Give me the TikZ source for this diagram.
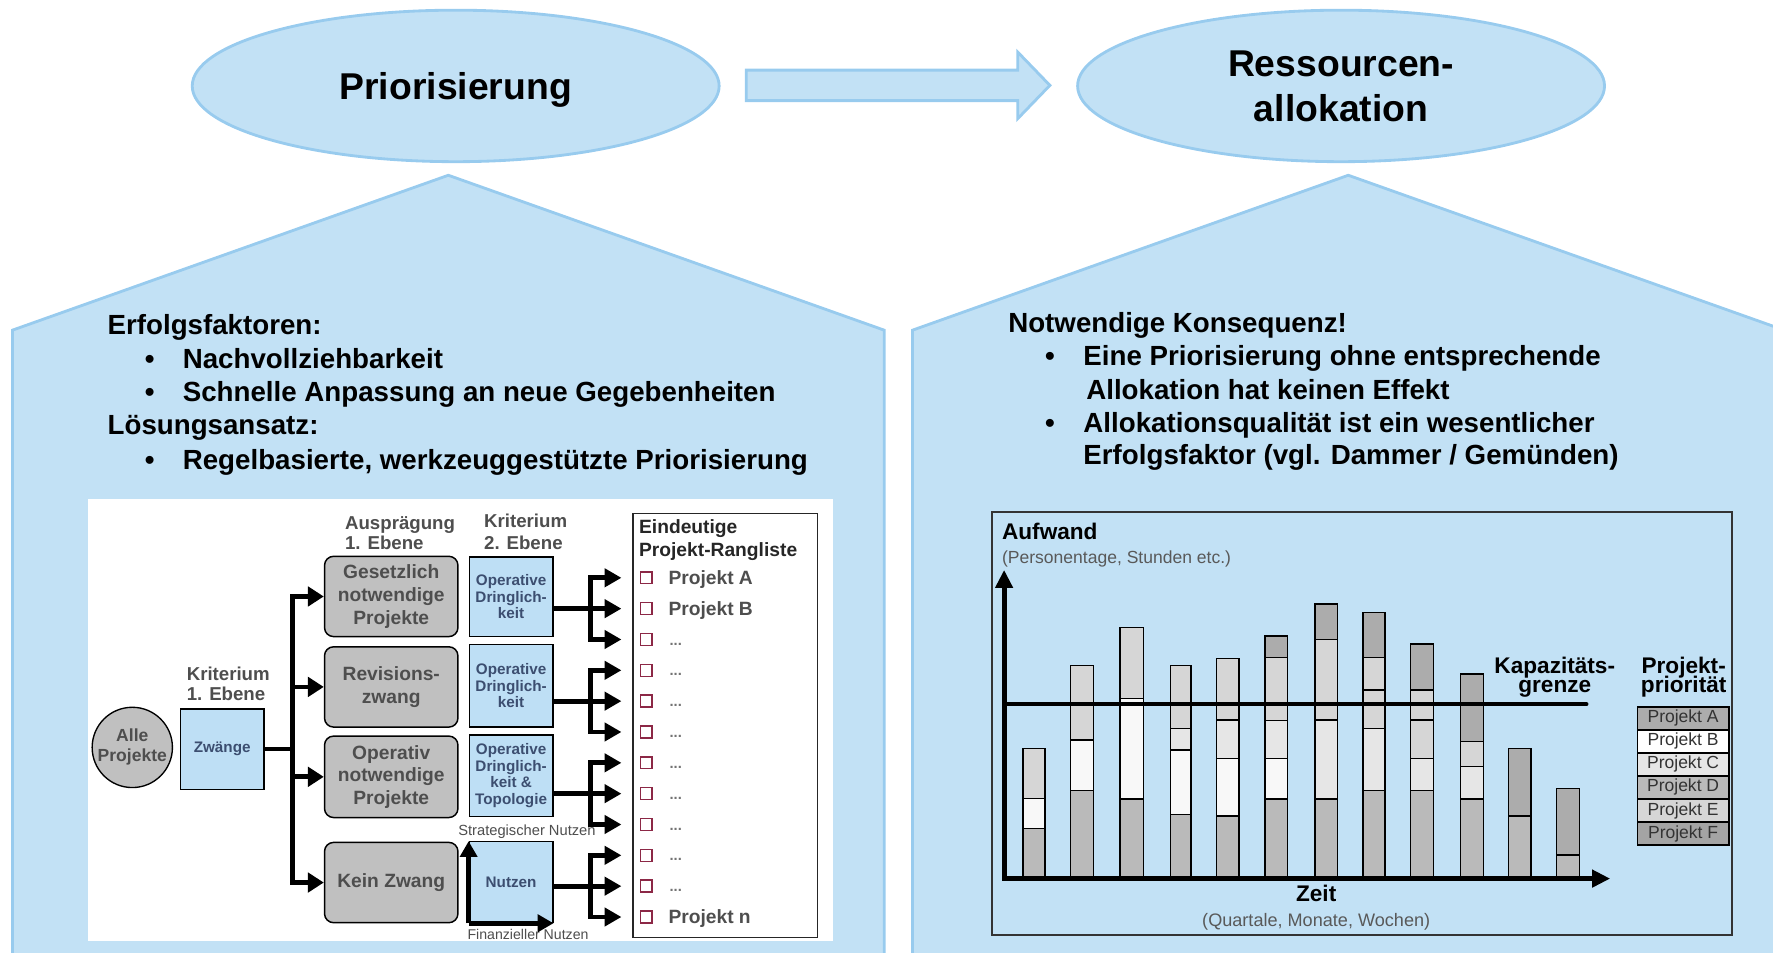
\documentclass[tikz,border=0pt]{standalone}
\usepackage{fontspec}
\setmainfont{Liberation Sans}
\usetikzlibrary{arrows.meta,shapes.geometric}
\definecolor{lb}{RGB}{194,225,245}
\definecolor{lbd}{RGB}{152,203,238}
\definecolor{boxblue}{RGB}{190,223,245}
\definecolor{gboxc}{RGB}{192,192,192}
\definecolor{dgt}{RGB}{78,78,78}
\definecolor{btxt}{RGB}{60,78,112}
\definecolor{cbred}{RGB}{140,40,70}
\definecolor{pA}{RGB}{172,172,172}
\definecolor{pB}{RGB}{248,248,248}
\definecolor{pC}{RGB}{230,230,230}
\definecolor{pD}{RGB}{186,186,186}
\definecolor{pE}{RGB}{214,214,214}
\definecolor{pF}{RGB}{164,164,164}
\newcommand\chseg[5]{\draw[fill=#5,draw=black,line width=1.3pt] (#1,#3) rectangle (#2,#4);}
\newcommand\fsz[2]{\fontsize{#1}{#2}\selectfont}
\begin{document}
\begin{tikzpicture}[x=1pt,y=-1pt,
  big/.style={font=\fsz{24.5}{30}\bfseries, anchor=base west, inner sep=0pt},
  ttl/.style={font=\fsz{33}{40}\bfseries, anchor=base, inner sep=0pt},
  ell/.style={ellipse, fill=lb, draw=lbd, line width=2.5pt, minimum width=466pt, minimum height=134pt, inner sep=0pt},
  panel/.style={fill=lb, draw=lbd, line width=2.5pt},
  lab/.style={font=\fsz{16.5}{18}\bfseries, text=dgt, anchor=base west, inner sep=0pt},
  gb/.style={rounded corners=8pt, fill=gboxc, draw=black, line width=1.3pt, minimum width=118pt, align=center, text=dgt, font=\fsz{17}{20}\bfseries, inner sep=0pt},
  bb/.style={fill=boxblue, draw=black, line width=1.1pt, minimum width=74pt, align=center, text=btxt, font=\fsz{13.5}{14.7}\bfseries, inner sep=0pt},
  arrline/.style={line width=4.2pt, -{Triangle[length=15pt,width=16pt]}},
  thk/.style={line width=4.2pt},
  chk/.style={draw=cbred, line width=1.3pt, minimum size=10.5pt, inner sep=0pt},
  itm/.style={anchor=base west, inner sep=0pt, text=dgt, font=\fsz{17}{20}\bfseries},
  small/.style={anchor=base, inner sep=0pt, text=dgt, font=\fsz{13}{15}},
  chtxt/.style={inner sep=0pt, font=\fsz{20}{20}\bfseries},
  chsub/.style={inner sep=0pt, text=black!65, font=\fsz{15.5}{18}},
  legrow/.style={draw=black, line width=1.4pt, minimum width=81pt, minimum height=20.4pt, inner sep=0pt, text=black!80, font=\fsz{15.5}{16}}
]
\useasboundingbox (0,0) rectangle (1568,842);
\clip (0,0) rectangle (1568,842);

% top ellipses and block arrow
\node[ell] (prio) at (403,76) {};
\node[ttl] (priot) at (403,88.4) {Priorisierung};
\node[ell] (ress) at (1186,76) {};
\node[ttl] (resst1) at (1186,67.8) {Ressourcen-};
\node[ttl] (resst2) at (1186,107.6) {allokation};
\draw[panel] (660,62) -- (900,62) -- (900,46) -- (928.5,75.5) -- (900,105) -- (900,89) -- (660,89) -- cycle;

% pentagons
\draw[panel] (11,870) -- (11,292) -- (396.5,155) -- (782,292) -- (782,870);
\draw[panel] (807,870) -- (807,292) -- (1192.4,155) -- (1578,292) -- (1578,870);

% left texts
\node[big] (ef) at (95,295.6) {Erfolgsfaktoren:};
\node[big] (lb1) at (128,325.8) {•};
\node[big] (lt1) at (161.5,325.8) {Nachvollziehbarkeit};
\node[big] (lb2) at (128,355.2) {•};
\node[big] (lt2) at (161.5,355.2) {Schnelle Anpassung an neue Gegebenheiten};
\node[big] (la) at (95,384.7) {Lösungsansatz:};
\node[big] (lb3) at (128,415) {•};
\node[big] (lt3) at (161.5,415) {Regelbasierte, werkzeuggestützte Priorisierung};

% right texts
\node[big] (nk) at (891.5,293.9) {Notwendige Konsequenz!};
\node[big] (rb1) at (924,322.8) {•};
\node[big] (rt1) at (958,322.8) {Eine Priorisierung ohne entsprechende};
\node[big] (rt2) at (960.5,352.9) {Allokation hat keinen Effekt};
\node[big] (rb2) at (924,382.4) {•};
\node[big] (rt3) at (958,382.4) {Allokationsqualität ist ein wesentlicher};
\node[big] (rt4) at (958,411.2) {Erfolgsfaktor (vgl. Dammer / Gemünden)};

% ---------------- left diagram ----------------
\fill[white] (78,441) rectangle (737,832);
\node[circle, fill=gboxc, draw=black, line width=1.2pt, minimum size=71pt, inner sep=0pt, align=center, text=dgt, font=\fsz{15.5}{17.7}\bfseries] (alle) at (117,661) {Alle\\Projekte};
\node[bb, minimum height=71pt] (zw) at (196.5,662.5) {Zwänge};
\node[lab] (k1a) at (165,602) {Kriterium};
\node[lab] (k1b) at (165,619.7) {1. Ebene};
\node[lab] (aua) at (305,468.1) {Ausprägung};
\node[lab] (aub) at (305,485.8) {1. Ebene};
\node[lab] (k2a) at (428,466.7) {Kriterium};
\node[lab] (k2b) at (428,485.8) {2. Ebene};

\node[gb, minimum height=71pt] (g1) at (346,527.5) {Gesetzlich\\notwendige\\Projekte};
\node[gb, minimum height=71pt] (g2) at (346,607.5) {Revisions-\\zwang};
\node[gb, minimum height=72pt] (g3) at (346,687) {Operativ\\notwendige\\Projekte};
\node[gb, minimum height=71pt] (g4) at (346,780.5) {Kein Zwang};

\node[bb, minimum height=70.5pt] (b1) at (452,527.8) {Operative\\Dringlich-\\keit};
\node[bb, minimum height=73pt] (b2) at (452,606.5) {Operative\\Dringlich-\\keit};
\node[bb, minimum height=72pt] (b3) at (452,686) {Operative\\Dringlich-\\keit \&\\Topologie};
\node[bb, minimum height=71.5pt] (b4) at (452,780.2) {Nutzen};
\node[small] (strat) at (466,738.5) {Strategischer Nutzen};
\node[small, font=\fsz{12.5}{14}] (fin) at (467,830.5) {Finanzieller Nutzen};
\draw[line width=4.2pt, -{Triangle[length=14pt,width=15pt]}] (b4.south west) -- (b4.north west);
\draw[line width=4.2pt, -{Triangle[length=14pt,width=15pt]}] (b4.south west) -- (b4.south east);

% trunk
\coordinate (tr) at (259,661);
\draw[thk] (zw.east) -- (tr |- zw.east);
\draw[thk, line cap=rect] (tr |- g1.west) -- (tr |- g4.west);
\foreach \g in {g1,g2,g3,g4} \draw[line width=4.2pt, -{Triangle[length=14pt,width=17pt]}] (tr |- \g.west) -- (\g.west);

% ranking list
\node[draw=black!85, line width=1.5pt, fill=white, minimum width=163pt, minimum height=375pt, inner sep=0pt] (rl) at (641.5,641.5) {};
\node[anchor=base west, inner sep=0pt, text=black!85, font=\fsz{17}{20}\bfseries] (rlt1) at (565,471.7) {Eindeutige};
\node[anchor=base west, inner sep=0pt, text=black!85, font=\fsz{17}{20}\bfseries] (rlt2) at (565,492.3) {Projekt-Rangliste};
\foreach \i in {0,...,11}{
  \pgfmathsetmacro\yy{511+27.27*\i}
  \node[chk] (c\i) at (571.5,\yy) {};
  \coordinate (br\i) at (522,\yy);
}
\node[itm] (t0) at (591,516.8) {Projekt A};
\node[itm] (t1) at (591,544.1) {Projekt B};
\foreach \i in {2,...,10}{
  \pgfmathsetmacro\yy{511+27.27*\i+5}
  \node[itm, font=\fsz{13}{15}\bfseries, text=black!55] (t\i) at (592,\yy) {...};
}
\node[itm] (t11) at (591,816.8) {Projekt n};

\foreach \b/\s/\p/\q in {b1/1/0/2, b2/4/3/5, b3/7/6/8, b4/10/9/11}{
  \draw[thk] (\b.east |- br\s) -- (br\s);
  \draw[thk, line cap=rect] (br\p) -- (br\q);
  \foreach \k in {\p,...,\q}
    \draw[line width=4.2pt, -{Triangle[length=15pt,width=16pt]}] (br\k) -- ([xshift=-16pt]c\k.west);
}

% ---------------- right chart ----------------
\draw[draw=black!80, line width=1.5pt] (877,453) rectangle (1532,827);
\node[chtxt, anchor=base west] (auf) at (886,477) {Aufwand};
\node[chsub, anchor=base west] (aufs) at (886,498.2) {(Personentage, Stunden etc.)};

\chseg{904.5}{924.2}{662}{706}{pE}
\chseg{904.5}{924.2}{706}{732.6}{pB}
\chseg{904.5}{924.2}{732.6}{776}{pD}

\chseg{946.9}{966.9}{588.7}{654.5}{pE}
\chseg{946.9}{966.9}{654.5}{699.3}{pB}
\chseg{946.9}{966.9}{699.3}{776}{pD}

\chseg{990.5}{1011.2}{555}{617.6}{pE}
\chseg{990.5}{1011.2}{617.6}{706.6}{pB}
\chseg{990.5}{1011.2}{706.6}{776}{pD}

\chseg{1035.3}{1053.4}{588.7}{644.1}{pE}
\chseg{1035.3}{1053.4}{644.1}{663.3}{pC}
\chseg{1035.3}{1053.4}{663.3}{720.2}{pB}
\chseg{1035.3}{1053.4}{720.2}{776}{pD}

\chseg{1076}{1095.8}{582.2}{636.8}{pE}
\chseg{1076}{1095.8}{636.8}{670.7}{pC}
\chseg{1076}{1095.8}{670.7}{721.7}{pB}
\chseg{1076}{1095.8}{721.7}{776}{pD}

\chseg{1118.8}{1138.5}{562.5}{581.4}{pA}
\chseg{1118.8}{1138.5}{581.4}{637.4}{pE}
\chseg{1118.8}{1138.5}{637.4}{670.7}{pC}
\chseg{1118.8}{1138.5}{670.7}{706.6}{pB}
\chseg{1118.8}{1138.5}{706.6}{776}{pD}

\chseg{1163}{1182.8}{534.2}{565.4}{pA}
\chseg{1163}{1182.8}{565.4}{636.8}{pE}
\chseg{1163}{1182.8}{636.8}{706.6}{pC}
\chseg{1163}{1182.8}{706.6}{776}{pD}

\chseg{1205.2}{1224.9}{541.6}{581.7}{pA}
\chseg{1205.2}{1224.9}{581.7}{610.2}{pE}
\chseg{1205.2}{1224.9}{610.2}{644.1}{pE}
\chseg{1205.2}{1224.9}{644.1}{699.3}{pC}
\chseg{1205.2}{1224.9}{699.3}{776}{pD}

\chseg{1247.6}{1267.6}{569.6}{610.2}{pA}
\chseg{1247.6}{1267.6}{610.2}{636.8}{pE}
\chseg{1247.6}{1267.6}{636.8}{670.7}{pE}
\chseg{1247.6}{1267.6}{670.7}{699.3}{pC}
\chseg{1247.6}{1267.6}{699.3}{776}{pD}

\chseg{1291.8}{1311.9}{596.1}{655.9}{pA}
\chseg{1291.8}{1311.9}{655.9}{678}{pE}
\chseg{1291.8}{1311.9}{678}{706.6}{pC}
\chseg{1291.8}{1311.9}{706.6}{776}{pD}

\chseg{1334}{1354}{661.8}{721.7}{pA}
\chseg{1334}{1354}{721.7}{776}{pD}

\chseg{1376.7}{1396.8}{697.2}{756.2}{pA}
\chseg{1376.7}{1396.8}{756.2}{776}{pD}

\draw[line width=3.6pt, line cap=round] (888,622.8) -- (1403,622.8);
\draw[line width=4.6pt, {Triangle[length=16pt,width=15pt]}-{Triangle[length=16pt,width=15pt]}] (888,504) -- (888,777) -- (1424,777);

\node[chtxt, anchor=base] (zeit) at (1164,797.4) {Zeit};
\node[chsub, anchor=base, font=\fsz{16}{18}] (zeits) at (1164,819.5) {(Quartale, Monate, Wochen)};
\node[chtxt, anchor=base] (kap1) at (1375,595.5) {Kapazitäts-};
\node[chtxt, anchor=base] (kap2) at (1375,612.6) {grenze};
\node[chtxt, anchor=base] (pp1) at (1489,595.7) {Projekt-};
\node[chtxt, anchor=base] (pp2) at (1489,612.6) {priorität};

\node[legrow, fill=pA] (lA) at (1488.5,635.2) {Projekt A};
\node[legrow, fill=white] (lB) at (1488.5,655.6) {Projekt B};
\node[legrow, fill=pC] (lC) at (1488.5,676) {Projekt C};
\node[legrow, fill=pD] (lD) at (1488.5,696.4) {Projekt D};
\node[legrow, fill=pE] (lE) at (1488.5,716.8) {Projekt E};
\node[legrow, fill=pF] (lF) at (1488.5,737.2) {Projekt F};
\end{tikzpicture}
\end{document}
